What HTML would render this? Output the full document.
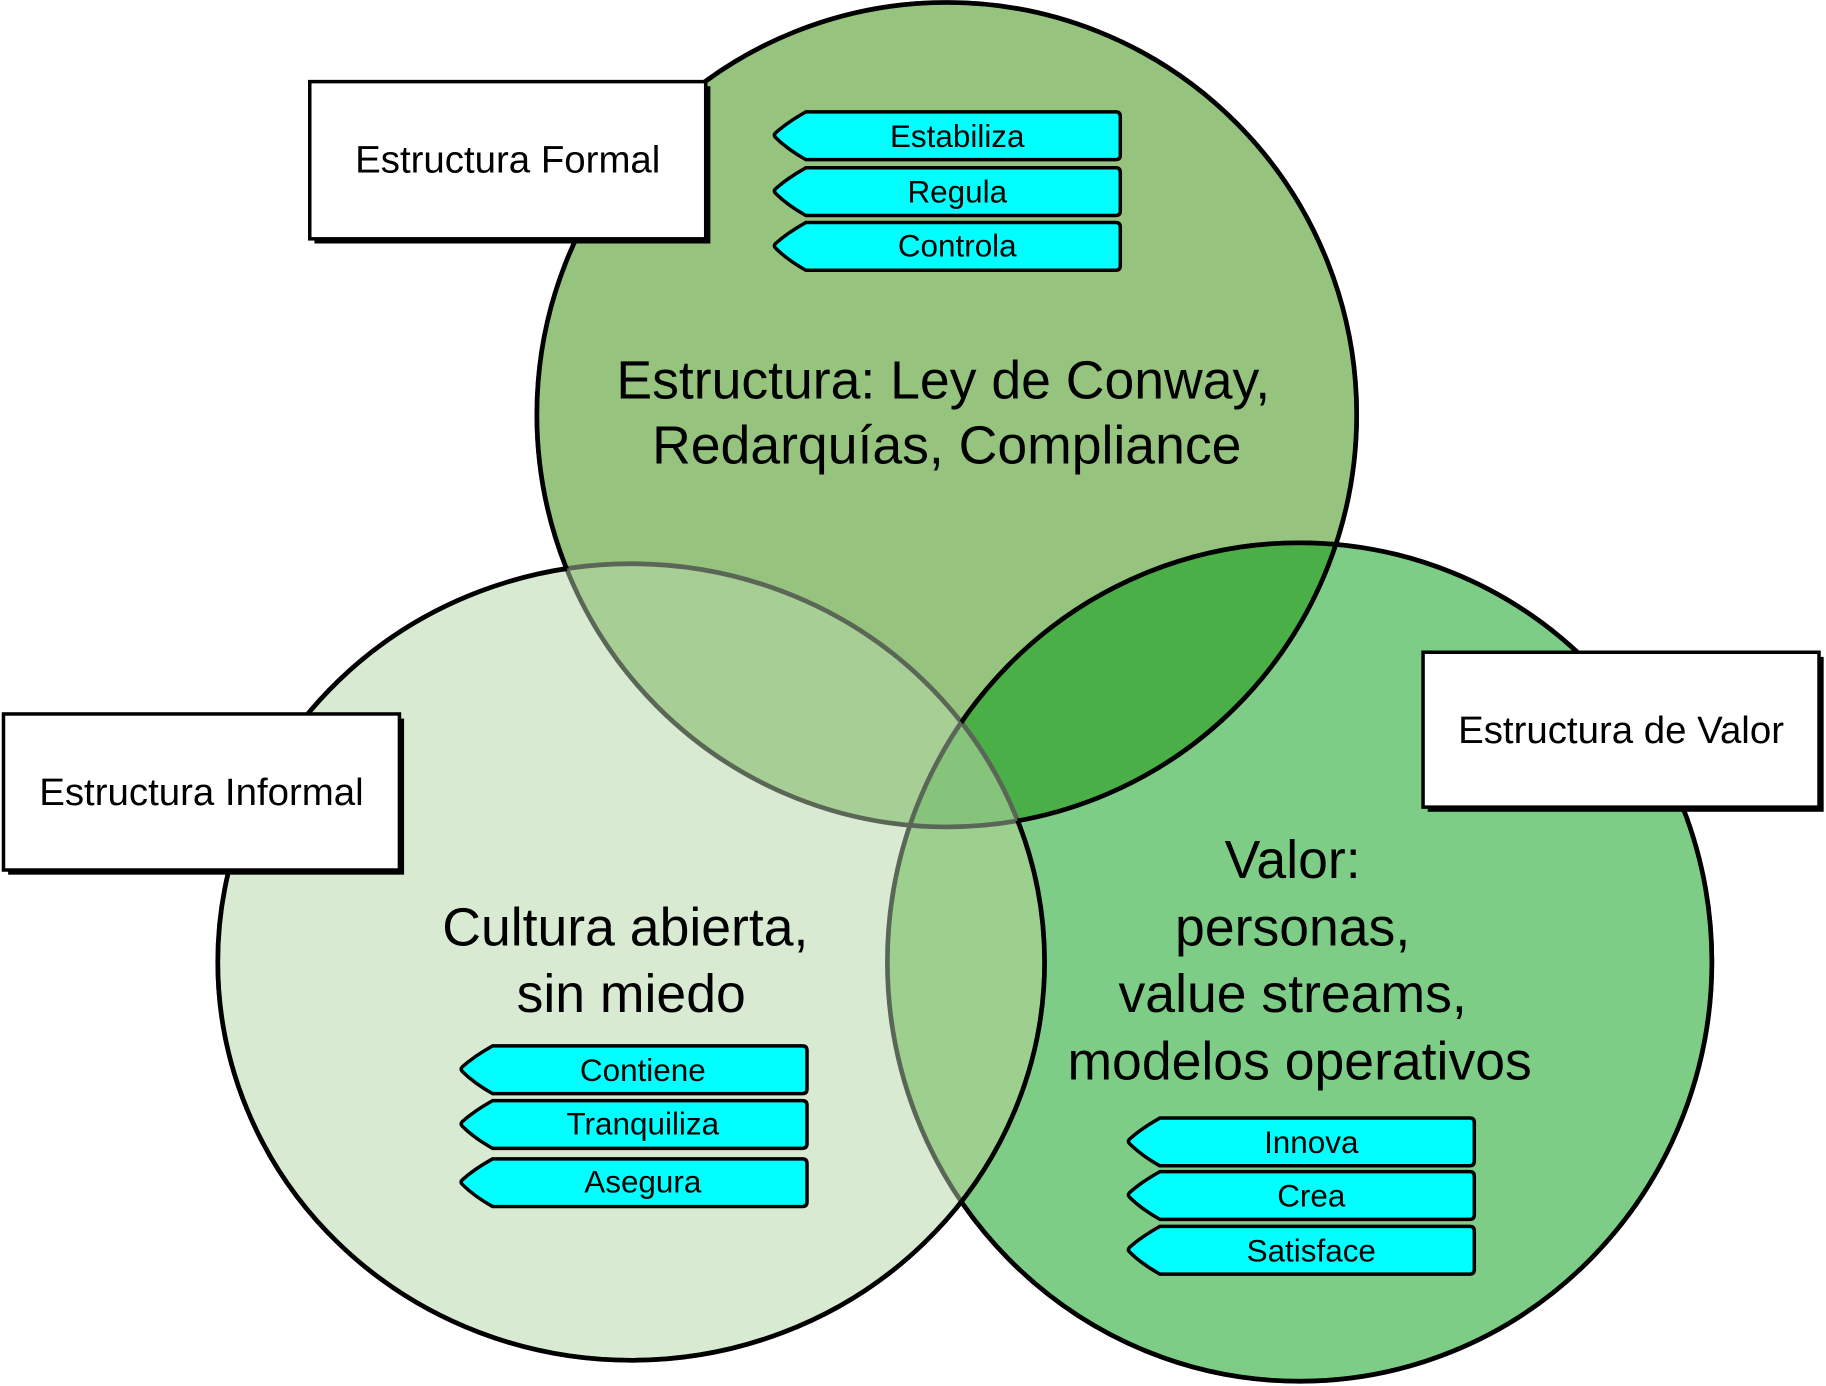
<!DOCTYPE html>
<html><head><meta charset="utf-8"><style>
html,body{margin:0;padding:0;background:#fff;}
svg{display:block}
text{font-family:"Liberation Sans",sans-serif;fill:#000;}
</style></head><body>
<svg width="1826" height="1386" viewBox="0 0 1568 1190" xmlns="http://www.w3.org/2000/svg">
<defs>
<g id="tag">
<path d="M28,0 L294,0 Q298,0 298,4 L298,37 Q298,41 294,41 L28,41 Q12,32 2,22 Q0,20 2,18 Q12,9 28,0 Z" fill="#00ffff" stroke="#000" stroke-width="3"/>
</g>
<clipPath id="cT"><ellipse cx="813" cy="356" rx="352" ry="354"/></clipPath>
<clipPath id="cL"><ellipse cx="542" cy="826" rx="355" ry="342"/></clipPath>
<mask id="mNotL"><rect width="1568" height="1190" fill="#fff"/><ellipse cx="542" cy="826" rx="355" ry="342" fill="#000"/></mask>
<mask id="mNotT"><rect width="1568" height="1190" fill="#fff"/><ellipse cx="813" cy="356" rx="352" ry="354" fill="#000"/></mask>
</defs>
<!-- fills -->
<ellipse cx="1116" cy="826" rx="354" ry="360" fill="#7ecd86"/>
<ellipse cx="542" cy="826" rx="355" ry="342" fill="#d9ead3"/>
<ellipse cx="813" cy="356" rx="352" ry="354" fill="#96c47e"/>
<g clip-path="url(#cT)"><ellipse cx="542" cy="826" rx="355" ry="342" fill="#a7ce94"/><ellipse cx="1116" cy="826" rx="354" ry="360" fill="#4aaf46"/></g>
<g clip-path="url(#cL)"><ellipse cx="1116" cy="826" rx="354" ry="360" fill="#9dcf8f"/></g>
<g clip-path="url(#cL)"><g clip-path="url(#cT)"><ellipse cx="1116" cy="826" rx="354" ry="360" fill="#86c47c"/></g></g>
<!-- strokes -->
<ellipse cx="813" cy="356" rx="352" ry="354" fill="none" stroke="#5a6656" stroke-width="4"/>
<ellipse cx="542" cy="826" rx="355" ry="342" fill="none" stroke="#5a6656" stroke-width="4"/>
<ellipse cx="1116" cy="826" rx="354" ry="360" fill="none" stroke="#5a6656" stroke-width="4"/>
<ellipse cx="813" cy="356" rx="352" ry="354" fill="none" stroke="#000" stroke-width="4" mask="url(#mNotL)"/>
<ellipse cx="542" cy="826" rx="355" ry="342" fill="none" stroke="#000" stroke-width="4" mask="url(#mNotT)"/>
<ellipse cx="1116" cy="826" rx="354" ry="360" fill="none" stroke="#000" stroke-width="4" mask="url(#mNotL)"/>
<!-- label boxes -->
<rect x="270" y="74" width="340" height="135" fill="#000"/>
<rect x="266" y="70" width="340" height="135" fill="#fff" stroke="#000" stroke-width="3"/>
<text x="436" y="148" font-size="33" text-anchor="middle">Estructura Formal</text>
<rect x="7" y="617" width="340" height="134" fill="#000"/>
<rect x="3" y="613" width="340" height="134" fill="#fff" stroke="#000" stroke-width="3"/>
<text x="173" y="691" font-size="33" text-anchor="middle">Estructura Informal</text>
<rect x="1226" y="564" width="340" height="133" fill="#000"/>
<rect x="1222" y="560" width="340" height="133" fill="#fff" stroke="#000" stroke-width="3"/>
<text x="1392" y="638" font-size="33" text-anchor="middle">Estructura de Valor</text>
<!-- main texts -->
<text font-size="46" text-anchor="middle"><tspan x="810" y="342">Estructura: Ley de Conway,</tspan><tspan x="813" y="398">Redarquías, Compliance</tspan></text>
<text font-size="46" text-anchor="middle"><tspan x="537" y="812">Cultura abierta,</tspan><tspan x="542" y="869">sin miedo</tspan></text>
<text font-size="46" text-anchor="middle"><tspan x="1110" y="754">Valor:</tspan><tspan x="1110" y="812">personas,</tspan><tspan x="1110" y="869">value streams,</tspan><tspan x="1116" y="927">modelos operativos</tspan></text>
<!-- tags -->
<use href="#tag" x="664" y="96"/><use href="#tag" x="664" y="144"/><use href="#tag" x="664" y="191"/>
<text font-size="27" text-anchor="middle"><tspan x="822" y="126">Estabiliza</tspan><tspan x="822" y="174">Regula</tspan><tspan x="822" y="220">Controla</tspan></text>
<use href="#tag" x="395" y="898"/><use href="#tag" x="395" y="945"/><use href="#tag" x="395" y="995"/>
<text font-size="27" text-anchor="middle"><tspan x="552" y="928">Contiene</tspan><tspan x="552" y="974">Tranquiliza</tspan><tspan x="552" y="1024">Asegura</tspan></text>
<use href="#tag" x="968" y="960"/><use href="#tag" x="968" y="1006"/><use href="#tag" x="968" y="1053"/>
<text font-size="27" text-anchor="middle"><tspan x="1126" y="990">Innova</tspan><tspan x="1126" y="1036">Crea</tspan><tspan x="1126" y="1083">Satisface</tspan></text>
</svg>
</body></html>
